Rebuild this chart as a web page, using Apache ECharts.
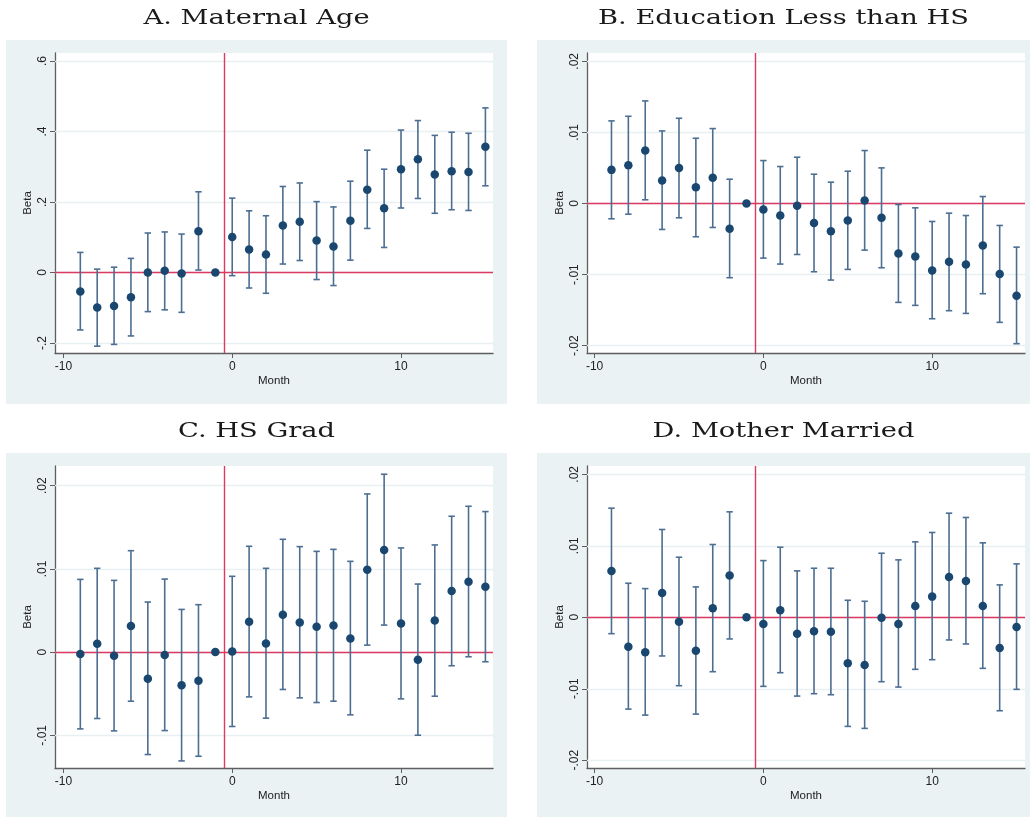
<!DOCTYPE html>
<html>
<head>
<meta charset="utf-8">
<script src="https://cdn.jsdelivr.net/npm/echarts@6/dist/echarts.min.js"></script>
<style>
  html, body { margin: 0; padding: 0; background: #ffffff; }
  #chart { width: 1030px; height: 819px; }
</style>
</head>
<body>
<div id="chart"></div>
<script>
// Event-study coefficients (Beta) by month relative to the reference month (-1).
const months = [-9, -8, -7, -6, -5, -4, -3, -2, -1, 0, 1, 2, 3, 4, 5, 6, 7, 8, 9, 10, 11, 12, 13, 14, 15];

// A. Maternal Age
const ageBeta = [-0.054, -0.099, -0.095, -0.070, 0.000, 0.005, -0.003, 0.117, 0, 0.101, 0.065, 0.051, 0.133, 0.144, 0.091, 0.074, 0.147, 0.235, 0.182, 0.293, 0.321, 0.278, 0.287, 0.285, 0.357];
const ageLo   = [-0.163, -0.209, -0.204, -0.180, -0.111, -0.106, -0.113, 0.007, null, -0.009, -0.044, -0.059, 0.024, 0.034, -0.020, -0.037, 0.035, 0.125, 0.071, 0.183, 0.210, 0.168, 0.178, 0.176, 0.246];
const ageHi   = [0.057, 0.0095, 0.015, 0.040, 0.112, 0.115, 0.109, 0.229, null, 0.211, 0.175, 0.161, 0.244, 0.254, 0.201, 0.186, 0.259, 0.347, 0.293, 0.404, 0.431, 0.389, 0.398, 0.395, 0.467];

// B. Education Less than HS
const lessHsBeta = [0.00473, 0.00539, 0.00745, 0.00323, 0.00501, 0.00230, 0.00361, -0.00356, 0, -0.00084, -0.00169, -0.00033, -0.00276, -0.00389, -0.00239, 0.00042, -0.00201, -0.00703, -0.00745, -0.00941, -0.00820, -0.00857, -0.00590, -0.00993, -0.01297];
const lessHsLo   = [-0.00215, -0.00150, 0.00052, -0.00365, -0.00201, -0.00468, -0.00337, -0.01044, null, -0.00768, -0.00852, -0.00717, -0.00960, -0.01077, -0.00927, -0.00656, -0.00904, -0.01391, -0.01433, -0.01621, -0.01508, -0.01546, -0.01269, -0.01672, -0.01972];
const lessHsHi   = [0.01162, 0.01227, 0.01443, 0.01021, 0.01199, 0.00918, 0.01054, 0.00342, null, 0.00604, 0.00520, 0.00651, 0.00412, 0.00300, 0.00454, 0.00745, 0.00501, -0.00014, -0.00061, -0.00253, -0.00136, -0.00169, 0.00098, -0.00309, -0.00614];

// C. HS Grad
const hsGradBeta = [-0.00024, 0.00100, -0.00044, 0.00313, -0.00321, -0.00036, -0.00397, -0.00345, 0, 0.00008, 0.00365, 0.00104, 0.00449, 0.00357, 0.00305, 0.00321, 0.00164, 0.00991, 0.01227, 0.00345, -0.00092, 0.00381, 0.00734, 0.00846, 0.00786];
const hsGradLo   = [-0.00923, -0.00798, -0.00947, -0.00590, -0.01231, -0.00943, -0.01308, -0.01252, null, -0.00894, -0.00538, -0.00794, -0.00449, -0.00550, -0.00606, -0.00590, -0.00754, 0.00084, 0.00325, -0.00562, -0.00999, -0.00530, -0.00164, -0.00056, -0.00116];
const hsGradHi   = [0.00874, 0.01007, 0.00862, 0.01219, 0.00602, 0.00878, 0.00513, 0.00570, null, 0.00911, 0.01272, 0.01007, 0.01356, 0.01268, 0.01211, 0.01235, 0.01091, 0.01901, 0.02138, 0.01252, 0.00818, 0.01288, 0.01633, 0.01753, 0.01689];

// D. Mother Married
const marriedBeta = [0.00649, -0.00411, -0.00490, 0.00341, -0.00061, -0.00467, 0.00126, 0.00583, 0, -0.00093, 0.00098, -0.00229, -0.00196, -0.00201, -0.00644, -0.00667, -0.00005, -0.00093, 0.00159, 0.00289, 0.00565, 0.00509, 0.00159, -0.00429, -0.00135];
const marriedLo   = [-0.00229, -0.01284, -0.01368, -0.00541, -0.00957, -0.01354, -0.00761, -0.00303, null, -0.00966, -0.00775, -0.01102, -0.01069, -0.01083, -0.01526, -0.01554, -0.00901, -0.00976, -0.00728, -0.00593, -0.00317, -0.00373, -0.00714, -0.01307, -0.01008];
const marriedHi   = [0.01526, 0.00476, 0.00401, 0.01228, 0.00840, 0.00425, 0.01018, 0.01475, null, 0.00793, 0.00980, 0.00649, 0.00686, 0.00686, 0.00238, 0.00224, 0.00896, 0.00803, 0.01055, 0.01186, 0.01456, 0.01396, 0.01041, 0.00453, 0.00747];

// Panel titles and axis ticks
const panelTitles = ['A. Maternal Age', 'B. Education Less than HS', 'C. HS Grad', 'D. Mother Married'];
const xTicks = [-10, 0, 10];
const yTicksAge = [-0.2, 0, 0.2, 0.4, 0.6];
const yTicksLessHs = [-0.02, -0.01, 0, 0.01, 0.02];
const yTicksHsGrad = [-0.01, 0, 0.01, 0.02];
const yTicksMarried = [-0.02, -0.01, 0, 0.01, 0.02];
const xAxisTitle = 'Month';
const yAxisTitle = 'Beta';
const eventLine = -0.5;   // vertical reference line between month -1 and month 0

const COL_POINT = '#1A476F';
const COL_BAR = '#4C6E92';
const COL_REF = '#DC3A60';
const COL_GRID = '#E8F0F2';
const COL_AXIS = '#5E5E5E';
const COL_PANEL = '#EAF2F3';

// Panel geometry: outer shaded box, plot region and axis ranges
const panels = [
  { box: [6, 40, 501, 364],   grid: [55, 53, 438, 300],  x: [-10.5, 15.45],  y: [-0.2284, 0.6227],   ticks: yTicksAge,     beta: ageBeta,     lo: ageLo,     hi: ageHi },
  { box: [537, 40, 493, 364], grid: [587, 53, 438, 300], x: [-10.45, 15.5],  y: [-0.02103, 0.02117], ticks: yTicksLessHs,  beta: lessHsBeta,  lo: lessHsLo,  hi: lessHsHi },
  { box: [6, 453, 501, 364],  grid: [55, 466, 438, 302], x: [-10.5, 15.45],  y: [-0.01393, 0.02237], ticks: yTicksHsGrad,  beta: hsGradBeta,  lo: hsGradLo,  hi: hsGradHi },
  { box: [537, 453, 493, 364],grid: [587, 466, 438, 302],x: [-10.45, 15.5],  y: [-0.02108, 0.02116], ticks: yTicksMarried, beta: marriedBeta, lo: marriedLo, hi: marriedHi }
];

function stataLabel(v) {
  const s = String(+v.toFixed(4));
  return s.replace(/^(-?)0\./, '$1.');
}

const grids = [], xAxes = [], yAxes = [], series = [], graphics = [];

panels.forEach((p, i) => {
  graphics.push({
    type: 'rect', z: -10, silent: true,
    shape: { x: p.box[0], y: p.box[1], width: p.box[2], height: p.box[3] },
    style: { fill: COL_PANEL }
  });
  graphics.push({
    type: 'text', silent: true,
    x: p.box[0] + p.box[2] / 2, y: p.box[1] - 21,
    scaleX: 1.3,
    style: {
      text: panelTitles[i], fill: '#1a1a1a',
      font: '21px "DejaVu Serif"', textAlign: 'center', textVerticalAlign: 'middle'
    }
  });

  grids.push({
    left: p.grid[0], top: p.grid[1], width: p.grid[2], height: p.grid[3],
    show: true, backgroundColor: '#ffffff', borderWidth: 0
  });

  xAxes.push({
    type: 'value', gridIndex: i, min: p.x[0], max: p.x[1],
    name: xAxisTitle, nameLocation: 'middle', nameGap: 22,
    nameTextStyle: { fontFamily: 'Liberation Sans', fontSize: 11.5, color: '#222' },
    axisLine: { show: true, onZero: false, lineStyle: { color: COL_AXIS, width: 1.3 } },
    axisTick: { show: true, length: 5, customValues: xTicks, lineStyle: { color: COL_AXIS, width: 1 } },
    axisLabel: { customValues: xTicks, margin: 8, fontFamily: 'Liberation Sans', fontSize: 12, color: '#222',
                 formatter: v => String(v) },
    splitLine: { show: false }
  });

  yAxes.push({
    type: 'value', gridIndex: i, min: p.y[0], max: p.y[1],
    name: yAxisTitle, nameLocation: 'middle', nameGap: 21,
    nameTextStyle: { fontFamily: 'Liberation Sans', fontSize: 11.5, color: '#222' },
    axisLine: { show: true, onZero: false, lineStyle: { color: COL_AXIS, width: 1.3 } },
    axisTick: { show: true, length: 5, customValues: p.ticks, lineStyle: { color: COL_AXIS, width: 1 } },
    axisLabel: { customValues: p.ticks, rotate: 90, margin: 6, fontFamily: 'Liberation Sans', fontSize: 12, color: '#222',
                 formatter: stataLabel },
    splitLine: { show: false }
  });

  // horizontal grid lines at the labelled ticks (kept beneath every mark)
  series.push({
    type: 'line', xAxisIndex: i, yAxisIndex: i, data: [], silent: true, z: 1,
    markLine: {
      z: 1, silent: true, symbol: 'none', animation: false,
      label: { show: false },
      lineStyle: { color: COL_GRID, width: 1.3, type: 'solid' },
      data: p.ticks.map(t => ({ yAxis: t }))
    }
  });

  // reference lines: event month and zero effect
  series.push({
    type: 'line', xAxisIndex: i, yAxisIndex: i, data: [], silent: true, z: 2,
    markLine: {
      z: 2, silent: true, symbol: 'none', animation: false,
      label: { show: false },
      lineStyle: { color: COL_REF, width: 1.4, type: 'solid' },
      data: [{ xAxis: eventLine }, { yAxis: 0 }]
    }
  });

  // 95% confidence intervals as capped spikes
  const ciData = months.map((m, k) => [m, p.lo[k], p.hi[k]]).filter(d => d[1] !== null);
  series.push({
    type: 'custom', xAxisIndex: i, yAxisIndex: i, z: 3, silent: true,
    encode: { x: 0, y: [1, 2] },
    data: ciData,
    renderItem: (params, api) => {
      const lo = api.coord([api.value(0), api.value(1)]);
      const hi = api.coord([api.value(0), api.value(2)]);
      const cap = 3.2;
      const style = { stroke: COL_BAR, lineWidth: 1.6 };
      return {
        type: 'group',
        children: [
          { type: 'line', shape: { x1: lo[0], y1: lo[1], x2: hi[0], y2: hi[1] }, style },
          { type: 'line', shape: { x1: lo[0] - cap, y1: lo[1], x2: lo[0] + cap, y2: lo[1] }, style },
          { type: 'line', shape: { x1: hi[0] - cap, y1: hi[1], x2: hi[0] + cap, y2: hi[1] }, style }
        ]
      };
    }
  });

  // point estimates
  series.push({
    type: 'scatter', xAxisIndex: i, yAxisIndex: i, z: 4, silent: true,
    symbol: 'circle', symbolSize: 8.5,
    itemStyle: { color: COL_POINT, opacity: 1 },
    data: months.map((m, k) => [m, p.beta[k]])
  });
});

const chart = echarts.init(document.getElementById('chart'), null, { renderer: 'canvas' });
chart.setOption({
  animation: false,
  backgroundColor: '#ffffff',
  grid: grids,
  xAxis: xAxes,
  yAxis: yAxes,
  series: series,
  graphic: graphics
});
</script>
</body>
</html>
